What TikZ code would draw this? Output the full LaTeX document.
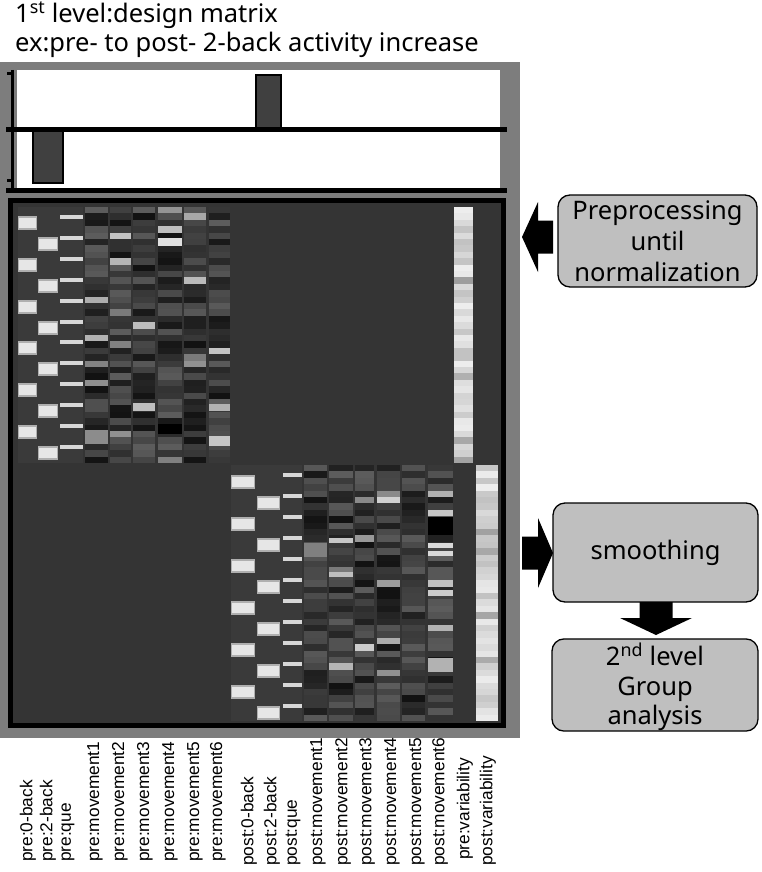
\documentclass[tikz,border=0pt]{standalone}
\usepackage{fontspec}
\setmainfont{Noto Sans}
\newfontfamily\labfont{Liberation Sans}
\usetikzlibrary{calc}
\definecolor{framegray}{RGB}{125,125,125}
\definecolor{matbg}{RGB}{52,52,52}
\definecolor{colbg}{RGB}{58,58,58}
\definecolor{boxgray}{RGB}{191,191,191}
\definecolor{bargray}{RGB}{64,64,64}
\definecolor{blockouter}{RGB}{175,175,175}
\definecolor{blockinner}{RGB}{230,230,230}
\definecolor{quebar}{RGB}{215,215,215}
\begin{document}
\begin{tikzpicture}[x=1pt,y=-1pt,
  procbox/.style={draw=black, line width=1.3pt, fill=boxgray, rounded corners=12pt,
    align=center, inner sep=0pt, font=\fontsize{25.5}{31}\selectfont},
  titletext/.style={anchor=base west, inner sep=0pt, font=\fontsize{25.5}{29}\selectfont},
  collabel/.style={rotate=90, anchor=west, inner sep=0pt, font=\labfont\fontsize{17.3}{17}\selectfont},
  blockarrow/.style={fill=black},
  heavyline/.style={line width=5pt, black},
  contrastbar/.style={draw=black, line width=2.2pt, fill=bargray}]
\useasboundingbox (0,0) rectangle (762,872);
\fill[white] (0,0) rectangle (762,872);

% titles
\node[titletext] (t1) at (15,23) {1\textsuperscript{st} level:design matrix};
\node[titletext] (t2) at (15,52) {ex:pre- to post- 2-back activity increase};

% frame
\fill[framegray] (0,62) rectangle (520,738);
% contrast panels
\fill[white] (17,70) rectangle (500,127);
\fill[white] (17,132) rectangle (500,188);
\draw[contrastbar] (256,75) rectangle (281,128);
\draw[contrastbar] (33,131) rectangle (63,183);
\draw[heavyline] (6,129.5) -- (507,129.5);
\draw[heavyline] (6,190.5) -- (507,190.5);
\draw[line width=3pt] (12,70) -- (12,190);
\draw[line width=3pt] (7,74) -- (12,74);
\draw[line width=3pt] (7,180) -- (12,180);

% matrix background
\fill[matbg] (10,200) rectangle (504,726);
\fill[colbg] (18,207) rectangle (83,463);
\fill[colbg] (231,465) rectangle (302,721);

% pre task columns
\foreach \k in {0,...,5}{
  \fill[blockouter] (18,{216+41.8*\k}) rectangle ++(19,14);
  \fill[blockinner] (19,{218+41.8*\k}) rectangle ++(17,10);
  \fill[blockouter] (38,{237+41.8*\k}) rectangle ++(20,14);
  \fill[blockinner] (39,{239+41.8*\k}) rectangle ++(18,10);
}
\foreach \k in {0,...,11}{
  \fill[quebar] (60,{215+20.9*\k}) rectangle ++(23,4);
}
% post task columns
\foreach \k in {0,...,5}{
  \fill[blockouter] (231,{475+42*\k}) rectangle ++(24,14);
  \fill[blockinner] (232,{477+42*\k}) rectangle ++(22,10);
  \fill[blockouter] (257,{496+42*\k}) rectangle ++(23,14);
  \fill[blockinner] (258,{498+42*\k}) rectangle ++(21,10);
}
\foreach \k in {0,...,11}{
  \fill[quebar] (283,{473+21*\k}) rectangle ++(19,4);
}

% movement regressors (pseudo-random grey bands)
\pgfmathsetseed{20231}
\foreach \cx/\cw in {85/23,110/21,133/22,158/24,184/22,209/21}{
  \foreach \r in {0,...,39}{
    \pgfmathtruncatemacro{\g}{rnd<0.07 ? 48+30*rnd : 7+30*rnd}
    \fill[fill=white!\g!black] (\cx,{207+6.4*\r}) rectangle ++(\cw,6.5);
  }
}
\foreach \cx/\cw in {304/23,329/24,355/19,377/23,402/23,428/25}{
  \foreach \r in {0,...,39}{
    \pgfmathtruncatemacro{\g}{rnd<0.09 ? 48+35*rnd : 7+30*rnd}
    \fill[fill=white!\g!black] (\cx,{465+6.4*\r}) rectangle ++(\cw,6.5);
  }
}
% a few distinctive bright / dark bands
\fill[white!88!black] (158,238) rectangle ++(24,8);
\fill[white!75!black] (133,403) rectangle ++(22,8);
\fill[white!70!black] (209,404) rectangle ++(21,7);
\fill[white!78!black] (209,436) rectangle ++(21,10);
\fill[white!55!black] (85,430) rectangle ++(23,14);
\fill[black] (158,424) rectangle ++(24,10);
\fill[white!85!black] (428,543) rectangle ++(25,5);
\fill[white!85!black] (428,551) rectangle ++(25,5);
\fill[white!80!black] (428,590) rectangle ++(25,6);
\fill[black] (428,517) rectangle ++(25,18);
\fill[white!78!black] (329,538) rectangle ++(24,5);
\fill[white!75!black] (329,572) rectangle ++(24,5);
\fill[white!50!black] (304,543) rectangle ++(23,14);
\fill[white!70!black] (428,658) rectangle ++(25,14);

% variability columns
\foreach \r in {0,...,39}{
  \pgfmathtruncatemacro{\g}{rnd<0.12 ? 62+12*rnd : 76+18*rnd}
  \fill[fill=white!\g!black] (454,{207+6.4*\r}) rectangle ++(19,6.5);
  \pgfmathtruncatemacro{\h}{rnd<0.12 ? 62+12*rnd : 76+18*rnd}
  \fill[fill=white!\h!black] (476,{465+6.4*\r}) rectangle ++(22,6.5);
}

% matrix border
\draw[heavyline] (10.5,200.5) rectangle (503.5,725);

% processing boxes
\node[procbox, minimum width=199pt, minimum height=92pt] (prep) at (657.5,241)
  {Preprocessing\\until\\normalization};
\node[procbox, minimum width=205pt, minimum height=99pt] (smooth) at (655.5,552.5)
  {smoothing};
\node[procbox, minimum width=206pt, minimum height=90pt,
  font=\fontsize{25.5}{29.5}\selectfont] (group) at (655,685)
  {\rule{0pt}{27pt}2\textsuperscript{nd} level\\Group\\analysis};

% block arrows
\fill[blockarrow] (522,237) -- (538,202) -- (538,220.5) -- (553,220.5)
  -- (553,253.5) -- (538,253.5) -- (538,272) -- cycle;
\fill[blockarrow] (553,553) -- (538,518) -- (538,536.5) -- (522,536.5)
  -- (522,569.5) -- (538,569.5) -- (538,588) -- cycle;
\fill[blockarrow] (656,635) -- (620,618) -- (639.5,618) -- (639.5,602)
  -- (672.5,602) -- (672.5,618) -- (692,618) -- cycle;

% column labels
\foreach \n/\x/\y/\t in {
  c1/28/862/pre:0-back, c2/48/862/pre:2-back, c3/68/862/pre:que,
  c4/95/862/pre:movement1, c5/120/862/pre:movement2, c6/145/862/pre:movement3,
  c7/170/862/pre:movement4, c8/195/862/pre:movement5, c9/218/862/pre:movement6,
  c10/249/866/post:0-back, c11/272/866/post:2-back, c12/293/866/post:que,
  c13/318/866/post:movement1, c14/343/866/post:movement2, c15/367/866/post:movement3,
  c16/392/866/post:movement4, c17/417/866/post:movement5, c18/440/866/post:movement6,
  c19/465/860/pre:variability, c20/488/866/post:variability}{
  \node[collabel] (\n) at (\x,\y) {\t};
}
\end{tikzpicture}
\end{document}
